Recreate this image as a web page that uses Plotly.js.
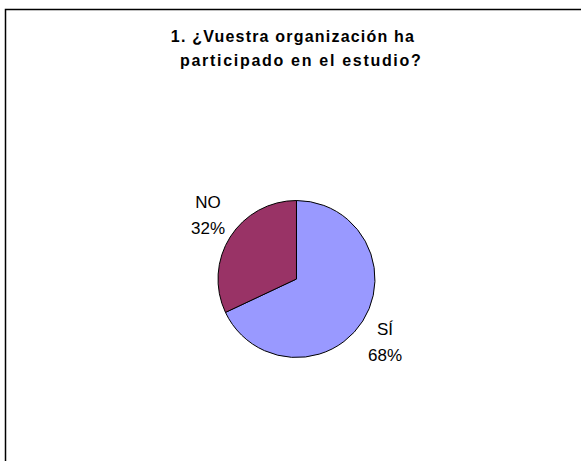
<!DOCTYPE html>
<html>
<head>
<meta charset="utf-8">
<script src="https://cdn.plot.ly/plotly-3.0.1.min.js"></script>
<style>html,body{margin:0;padding:0;background:#fff;}#chart{width:581px;height:461px;}</style>
</head>
<body>
<div id="chart"></div>
<script>
var categories = ["SÍ", "NO"];
var values = [68, 32];
var colors = ["#9999FF", "#993366"];
var titleLine1 = "1. ¿Vuestra organización ha";
var titleLine2 = "participado en el estudio?";

var FONT = "Liberation Sans, Arial, sans-serif";
var W = 581, H = 461;
var pieDomX = [0.3752, 0.6454], pieDomY = [0.2245, 0.5651];

var trace = {
  type: "pie",
  labels: categories,
  values: values,
  sort: false,
  direction: "clockwise",
  rotation: 0,
  marker: {colors: colors, line: {color: "#000000", width: 1}},
  textinfo: "none",
  hoverinfo: "none",
  domain: {x: pieDomX, y: pieDomY},
  showlegend: false
};

// Outside-end data labels, placed along each slice's mid-angle (like the original chart)
var total = values.reduce(function (a, b) { return a + b; }, 0);
var cxPx = (pieDomX[0] + pieDomX[1]) / 2 * W;
var cyPx = (1 - (pieDomY[0] + pieDomY[1]) / 2) * H;
var rPx = Math.min((pieDomX[1] - pieDomX[0]) * W, (pieDomY[1] - pieDomY[0]) * H) / 2;
var kx = 1.34, ky = 1.51;
var labelAnns = [];
var cum = 0;
for (var i = 0; i < values.length; i++) {
  var mid = (cum + values[i] / 2) / total * 2 * Math.PI; // clockwise from 12 o'clock
  cum += values[i];
  var px = cxPx + kx * rPx * Math.sin(mid);
  var py = cyPx - ky * rPx * Math.cos(mid);
  var pct = Math.round(values[i] / total * 100) + "%";
  labelAnns.push({
    text: "<span style='font-size:17px'>" + categories[i] + "</span><br><span style='font-size:17px'>" + pct + "</span>",
    font: {family: FONT, size: 20, color: "#000000"},
    x: px / W, xref: "paper", xanchor: "center",
    y: 1 - py / H, yref: "paper", yanchor: "middle",
    showarrow: false
  });
}

function spaced(s, ls) {
  return "<span style='letter-spacing:" + ls + "px'><b>" + s + "</b></span>";
}

var layout = {
  width: W,
  height: H,
  margin: {l: 0, r: 0, t: 0, b: 0},
  paper_bgcolor: "#ffffff",
  showlegend: false,
  title: {
    text: spaced(titleLine1, 1.2),
    font: {family: FONT, size: 16, color: "#000000"},
    x: 293/W, xanchor: "center",
    y: 1 - 36.5/H, yanchor: "middle", yref: "container"
  },
  annotations: [{
    text: spaced(titleLine2, 1.7),
    font: {family: FONT, size: 16, color: "#000000"},
    x: 301/W, xref: "paper", xanchor: "center",
    y: 1 - 61/H, yref: "paper", yanchor: "middle",
    showarrow: false
  }].concat(labelAnns),
  shapes: [{
    type: "rect", xref: "paper", yref: "paper",
    x0: 5.5/W, x1: 1.05, y0: -0.05, y1: 1 - 9.5/H,
    line: {color: "#000000", width: 1.5}, fillcolor: "rgba(0,0,0,0)"
  }]
};

Plotly.newPlot("chart", [trace], layout, {displayModeBar: false, staticPlot: true});
</script>
</body>
</html>
